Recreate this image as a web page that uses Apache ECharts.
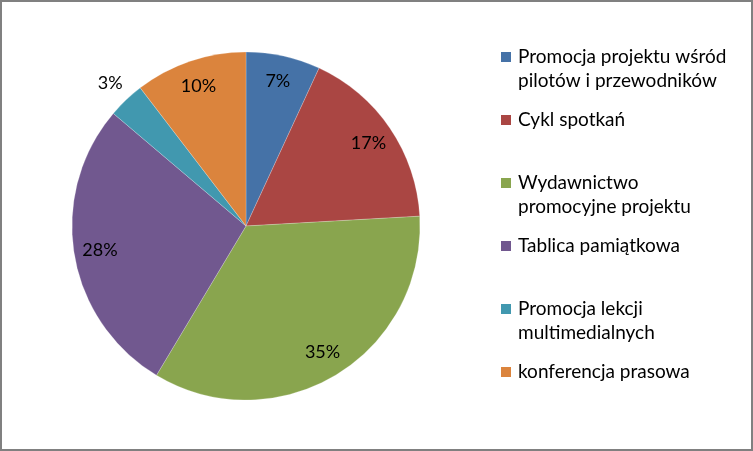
<!DOCTYPE html>
<html>
<head>
<meta charset="utf-8">
<script src="https://cdn.jsdelivr.net/npm/echarts@6/dist/echarts.min.js"></script>
<style>
html,body{margin:0;padding:0;background:#fff;}
#wrap{position:relative;width:753px;height:451px;}
#chart{position:absolute;left:0;top:0;width:753px;height:451px;}
#frame{position:absolute;left:0;top:0;width:753px;height:451px;box-sizing:border-box;border:2px solid #808080;pointer-events:none;}
</style>
</head>
<body>
<div id="wrap"><div id="chart"></div><div id="frame"></div></div>
<script>
var categories = [
  "Promocja projektu wśród\npilotów i przewodników",
  "Cykl spotkań",
  "Wydawnictwo\npromocyjne projektu",
  "Tablica pamiątkowa",
  "Promocja lekcji\nmultimedialnych",
  "konferencja prasowa"
];
var shares = [6.9, 17.2, 34.5, 27.6, 3.4, 10.4];
var colors = ["#4572A7", "#AA4643", "#89A54E", "#71588F", "#4198AF", "#DB843D"];
var outsideLabel = [false, false, false, false, true, false];

var FONT = "Lato";

function pct(p) { return Math.round(p.percent) + "%"; }

var mainData = categories.map(function (c, i) {
  return { name: c, value: shares[i], itemStyle: { color: colors[i] } };
});
var innerLabelData = categories.map(function (c, i) {
  return { name: c, value: shares[i], label: { show: !outsideLabel[i] } };
});
var outerLabelData = categories.map(function (c, i) {
  return { name: c, value: shares[i], label: { show: outsideLabel[i] } };
});

var chart = echarts.init(document.getElementById('chart'), null, { renderer: 'canvas' });
var overlayBase = {
  type: 'pie',
  center: [246, 226],
  startAngle: 90,
  clockwise: true,
  silent: true,
  animation: false,
  avoidLabelOverlap: false,
  itemStyle: { color: 'rgba(0,0,0,0)', borderWidth: 0 },
  labelLine: { show: false },
  emphasis: { disabled: true },
  label: { position: 'inside', formatter: pct, color: '#000', fontFamily: FONT, fontSize: 18 }
};
chart.setOption({
  animation: false,
  color: colors,
  legend: {
    orient: 'vertical',
    left: 501,
    top: 45,
    padding: 0,
    itemWidth: 10,
    itemHeight: 34,
    itemGap: 15,
    icon: 'path://M0,0L10,0L10,10L0,10Z M0,34L0.001,34',
    selectedMode: false,
    data: categories,
    formatter: function (n) { return n.indexOf('\n') >= 0 ? n : n + '\n'; },
    itemStyle: { borderWidth: 0 },
    textStyle: { fontFamily: FONT, fontSize: 19, color: '#000', lineHeight: 24, padding: [0, 0, 0, 2] }
  },
  series: [
    {
      type: 'pie',
      center: [246, 226],
      radius: 174,
      startAngle: 90,
      clockwise: true,
      animation: false,
      label: { show: false },
      labelLine: { show: false },
      emphasis: { disabled: true },
      itemStyle: { borderColor: 'rgba(255,255,255,0.35)', borderWidth: 0.6 },
      data: mainData
    },
    Object.assign({}, overlayBase, { radius: [116, 174], data: innerLabelData }),
    Object.assign({}, overlayBase, { radius: [174, 214], data: outerLabelData })
  ]
});
</script>
</body>
</html>
